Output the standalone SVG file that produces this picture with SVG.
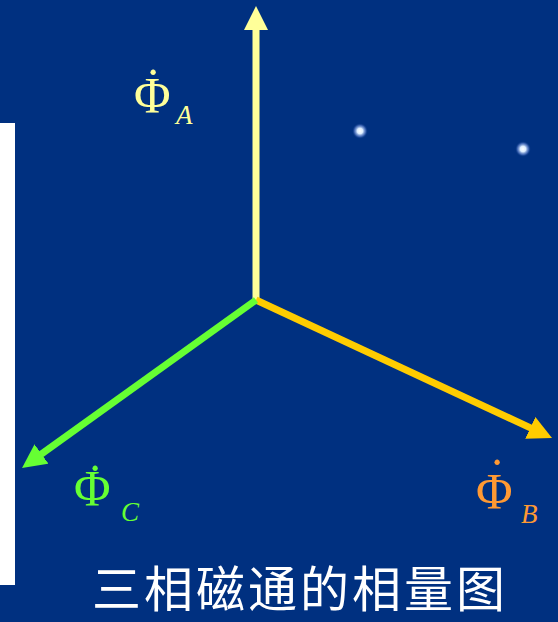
<svg xmlns="http://www.w3.org/2000/svg" width="558" height="622" viewBox="0 0 558 622">
  <style>
    .phi { font-family: "Liberation Serif", "Times New Roman", serif; font-size: 50px; }
    .sub { font-family: "Liberation Serif", "Times New Roman", serif; font-size: 27px; font-style: italic; }
    .title { font-family: "Noto Sans CJK SC", sans-serif; font-size: 49px; fill: #ffffff; letter-spacing: 3px; }
    .vec { stroke-width: 7; fill: none; }
  </style>
  <defs>
    <marker id="ahY" markerUnits="userSpaceOnUse" markerWidth="26" markerHeight="24" refX="2" refY="12" orient="auto">
      <path d="M0,0 L24,12 L0,24 Z" fill="#FFFF99"/>
    </marker>
    <marker id="ahO" markerUnits="userSpaceOnUse" markerWidth="26" markerHeight="24" refX="2" refY="12" orient="auto">
      <path d="M0,0 L24,12 L0,24 Z" fill="#FFCC00"/>
    </marker>
    <marker id="ahG" markerUnits="userSpaceOnUse" markerWidth="26" markerHeight="24" refX="2" refY="12" orient="auto">
      <path d="M0,0 L24,12 L0,24 Z" fill="#66FF33"/>
    </marker>
    <radialGradient id="star">
      <stop offset="0" stop-color="#ffffff"/>
      <stop offset="0.35" stop-color="#ddeeff"/>
      <stop offset="0.7" stop-color="#6f8fd8" stop-opacity="0.6"/>
      <stop offset="1" stop-color="#003080" stop-opacity="0"/>
    </radialGradient>
  </defs>
  <rect x="0" y="0" width="558" height="622" fill="#003080"/>
  <rect x="0" y="123" width="15" height="462" fill="#ffffff"/>
  <circle cx="360" cy="131" r="8" fill="url(#star)"/>
  <circle cx="523" cy="149" r="8" fill="url(#star)"/>
  <g id="connectors">
    <line class="vec" x1="256" y1="300" x2="256" y2="28" stroke="#FFFF99" marker-end="url(#ahY)"/>
    <line class="vec" x1="256" y1="300" x2="532.1" y2="428.7" stroke="#FFCC00" marker-end="url(#ahO)"/>
    <line class="vec" x1="256" y1="300" x2="39.9" y2="455.2" stroke="#66FF33" marker-end="url(#ahG)"/>
  </g>
  <g id="phiA" fill="#FFFF99">
    <text class="phi" x="134" y="112">Φ<tspan x="153" y="103" text-anchor="middle">˙</tspan></text>
    <text class="sub" x="176" y="124">A</text>
  </g>
  <g id="phiB" fill="#FF9933">
    <text class="phi" x="476" y="508">Φ<tspan x="497" y="493" text-anchor="middle">˙</tspan></text>
    <text class="sub" x="521" y="523">B</text>
  </g>
  <g id="phiC" fill="#66FF33">
    <text class="phi" x="74" y="505">Φ<tspan x="95" y="499" text-anchor="middle">˙</tspan></text>
    <text class="sub" x="121" y="521">C</text>
  </g>
  <g id="title">
    <text class="title" x="300" y="607" text-anchor="middle">三相磁通的相量图</text>
  </g>
</svg>
